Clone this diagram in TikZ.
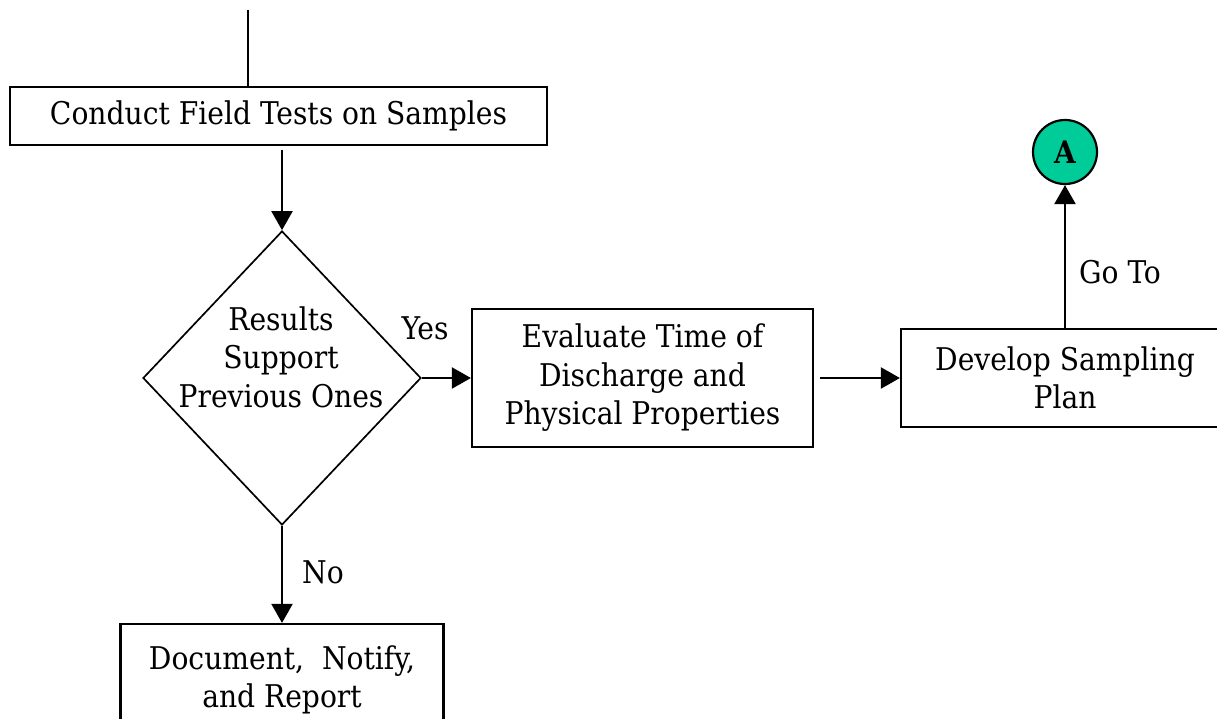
\documentclass[tikz,border=0pt]{standalone}
\usepackage{fontspec}
\setmainfont{DejaVu Serif Condensed}
\usetikzlibrary{shapes.geometric,arrows.meta}
\definecolor{connteal}{HTML}{00CC99}
\begin{document}
\begin{tikzpicture}[x=1pt,y=-1pt,
  every node/.style={font=\fontsize{31.3}{38.5}\selectfont},
  procbox/.style={draw,line width=2.2pt,align=center,inner sep=0pt},
  decision/.style={draw,diamond,line width=1.7pt,inner sep=0pt},
  flow/.style={line width=2.2pt,-{Triangle[length=19pt,width=21pt]}},
  plainline/.style={line width=2.2pt},
  lbl/.style={inner sep=0pt}]
\useasboundingbox (0,0) rectangle (1217,719);

% process boxes
\node[procbox,minimum width=537pt,minimum height=58pt] (field) at (278.5,116) {Conduct Field Tests on Samples};
\node[procbox,minimum width=341pt,minimum height=138pt] (evaluate) at (642.5,378) {Evaluate Time of\\Discharge and\\Physical Properties};
\node[procbox,minimum width=328pt,minimum height=98pt] (develop) at (1065,378) {Develop Sampling\\Plan};
\node[procbox,minimum width=323pt,minimum height=112pt] (report) at (282,680) {Document,\ \ Notify,\\and Report};

% decision
\node[decision,minimum width=278pt,minimum height=294pt] (decide) at (282,378) {};
\node[lbl,align=center] (decidetext) at (281,357) {Results\\Support\\Previous Ones};

% off-page connector
\node[draw,circle,fill=connteal,line width=2.2pt,minimum size=64pt,inner sep=0pt,
      font=\fontsize{31}{31}\selectfont\bfseries] (conA) at (1065,152) {A};

% incoming line
\coordinate (entry) at (248,10);
\draw[plainline] (entry) -- (entry |- field.north);

% connectors
\coordinate (fieldout) at (282,150);
\draw[flow] (fieldout) -- (decide.north);
\draw[flow] (decide.east) -- (evaluate.west);
\draw[flow,shorten <=6pt] (evaluate.east) -- (develop.west);
\draw[flow] (develop.north) -- (conA.south);
\draw[flow] (decide.south) -- (report.north);

% branch labels
\node[lbl] (yes) at (425,328) {Yes};
\node[lbl] (no) at (323,572) {No};
\node[lbl] (goto) at (1120,272) {Go To};
\end{tikzpicture}
\end{document}
